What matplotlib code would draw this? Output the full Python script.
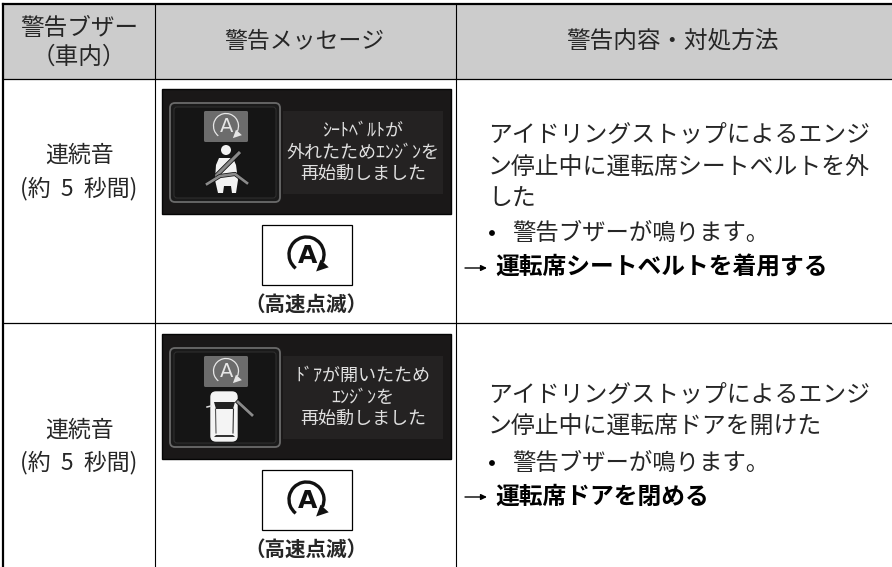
"""Warning table: two rows with display panel, icon and instructions."""
import matplotlib
matplotlib.use("Agg")
import matplotlib.pyplot as plt
from matplotlib.patches import Arc, Circle, FancyBboxPatch, Polygon, Rectangle

plt.rcParams["font.family"] = ["Noto Sans CJK JP", "DejaVu Sans"]

HEADERS = ["警告ブザー\n（車内）", "警告メッセージ", "警告内容・対処方法"]
BUZZER = ["連続音", "(約  5  秒間)"]
BLINK = "（高速点滅）"
PANEL_TEXT = [["ｼｰﾄﾍﾞﾙﾄが", "外れたためｴﾝｼﾞﾝを", "再始動しました"],
              ["ﾄﾞｱが開いたため", "ｴﾝｼﾞﾝを", "再始動しました"]]
BODY = [["アイドリングストップによるエンジ", "ン停止中に運転席シートベルトを外", "した"],
        ["アイドリングストップによるエンジ", "ン停止中に運転席ドアを開けた"]]
BULLET = "警告ブザーが鳴ります。"
ACTION = ["運転席シートベルトを着用する", "運転席ドアを閉める"]

X_LEFT, X_COL1, X_COL2, X_RIGHT = 2.7, 154.5, 456, 892
Y_TOP, Y_HEAD, Y_ROW = 4, 79, 323
ROW_DY = [0, 245]
TXT = "#262626"

fig = plt.figure(figsize=(8.92, 5.67), dpi=100)
ax = fig.add_axes([0, 0, 1, 1])
ax.set_xlim(0, 892)
ax.set_ylim(567, 0)
ax.axis("off")


def a_icon(cx, cy, r, color, lw, weight, fs):
    # y axis points down, so growing angles run clockwise on screen
    ax.add_patch(Arc((cx, cy), 2 * r, 2 * r, theta1=128, theta2=385, color=color, lw=lw))
    ax.add_patch(Polygon([(cx + r * 0.8, cy + r * 0.3), (cx + r * 1.27, cy + r * 0.73),
                          (cx + r * 0.55, cy + r * 0.97)], color=color, lw=0))
    ax.text(cx + r * 0.04, cy + r * 0.06, "A", ha="center", va="center", color=color,
            fontsize=fs, fontweight=weight, family="DejaVu Sans")


def seated():
    gray = "#8a8a8a"
    ax.add_patch(Polygon([(215, 180), (216, 165), (219, 158), (233, 158), (236, 165), (238, 180),
                          (236, 193), (232, 193), (231, 186), (224, 186), (223, 193),
                          (218, 193)], color="#f2f2f2", lw=0))
    ax.add_patch(Circle((226, 150), 5, color="#f2f2f2", lw=0))
    ax.plot([240, 216], [152, 176], color="#111", lw=3.4, solid_capstyle="butt")
    ax.plot([240, 216], [152, 176], color=gray, lw=2.2, solid_capstyle="butt")
    ax.plot([207, 220, 235, 247], [184, 176, 174, 183], color="#111", lw=3.0)
    ax.plot([207, 220, 235, 247], [184, 176, 174, 183], color=gray, lw=1.9)


def car(y):
    gray = "#8a8a8a"
    ax.add_patch(FancyBboxPatch((211, 147 + y), 26, 49, boxstyle="round,pad=0,rounding_size=5",
                                fc="#f4f4f4", ec="#f4f4f4", lw=1))
    ax.add_patch(Polygon([(214, 157 + y), (235, 157 + y), (233, 164 + y), (216, 164 + y)], color="#222", lw=0))
    ax.add_patch(Polygon([(216, 190 + y), (233, 190 + y), (235, 192 + y), (214, 192 + y)], color="#333", lw=0))
    ax.plot([215.5, 216], [164 + y, 188 + y], color="#555", lw=0.8)
    ax.plot([233.5, 233], [164 + y, 188 + y], color="#333", lw=0.8)
    ax.plot([207, 211], [162 + y, 161 + y], color="#ddd", lw=1.1)
    ax.plot([238, 252], [157 + y, 170 + y], color="#111", lw=3.2)
    ax.plot([238, 252], [157 + y, 170 + y], color=gray, lw=2.0)


# header shading and grid
ax.add_patch(Rectangle((X_LEFT, Y_TOP), X_RIGHT - X_LEFT, Y_HEAD - Y_TOP, fc="#cccccc", ec="none"))
ax.plot([X_LEFT, X_RIGHT], [Y_TOP, Y_TOP], color="k", lw=1.6)
for xv, wd in [(X_LEFT, 1.6), (X_COL1, 0.8), (X_COL2, 0.8)]:
    ax.plot([xv, xv], [Y_TOP, 567], color="k", lw=wd)
for yv in [Y_HEAD, Y_ROW]:
    ax.plot([X_LEFT, X_RIGHT], [yv, yv], color="k", lw=0.9)

ax.text(79, 43, HEADERS[0], ha="center", va="center", fontsize=17, color=TXT, linespacing=1.3)
ax.text(304, 41, HEADERS[1], ha="center", va="center", fontsize=16.5, color=TXT)
ax.text(672, 41, HEADERS[2], ha="center", va="center", fontsize=17, color=TXT)

BODY_Y = [[135, 167, 198], [395, 426]]
BULLET_Y = [233, 463]
ACTION_Y = [268, 497]
BUZZ_Y = [[155, 189], [430, 463]]
PANEL_Y = [131, 153, 174]

for i, dy in enumerate(ROW_DY):
    ax.text(79, BUZZ_Y[i][0], BUZZER[0], ha="center", va="center", fontsize=16.5, color=TXT)
    ax.text(79, BUZZ_Y[i][1], BUZZER[1], ha="center", va="center", fontsize=16.5, color=TXT)

    # display panel
    ax.add_patch(Rectangle((162, 89 + dy), 289, 125, fc="#1a1818", ec="#050505", lw=1))
    ax.add_patch(Rectangle((283, 111 + dy), 160, 83, fc="#242222", ec="none"))
    ax.add_patch(FancyBboxPatch((170, 103 + dy), 110, 99, boxstyle="round,pad=0,rounding_size=5",
                                fc="#1a1a1a", ec="#6a6a6a", lw=1.3))
    ax.add_patch(FancyBboxPatch((174, 107 + dy), 102, 91, boxstyle="round,pad=0,rounding_size=3",
                                fc="#151515", ec="#2e2e2e", lw=0.8))
    ax.add_patch(FancyBboxPatch((204, 111 + dy), 44, 31, boxstyle="round,pad=0,rounding_size=1.5",
                                fc="#6c6c6c", ec="none"))
    a_icon(226, 126 + dy, 12.5, "#e6e6e6", 0.9, "normal", 14)
    if i == 0:
        seated()
    else:
        car(dy)
    for yv, line in zip(PANEL_Y, PANEL_TEXT[i]):
        ax.text(363, yv + dy, line, ha="center", va="center", fontsize=13, color="#e0e0e0")

    # indicator box
    ax.add_patch(Rectangle((261.5, 224.5 + dy), 90, 60, fc="white", ec="k", lw=0.9))
    a_icon(306.5, 254.5 + dy, 17.5, "#111111", 2.4, "bold", 18)
    ax.text(306, 304 + dy, BLINK, ha="center", va="center", fontsize=14.8, color=TXT, fontweight="bold")

    # right column
    for yv, line in zip(BODY_Y[i], BODY[i]):
        ax.text(488, yv, line, ha="left", va="center", fontsize=17.2, color=TXT)
    ax.add_patch(Circle((492, BULLET_Y[i]), 2.9, color="k", lw=0))
    ax.text(512, BULLET_Y[i], BULLET, ha="left", va="center", fontsize=16.85, color=TXT)
    ax.annotate("", xy=(487, ACTION_Y[i]), xytext=(465, ACTION_Y[i]),
                arrowprops=dict(arrowstyle="-|>,head_length=0.35,head_width=0.17", color="k", lw=1.0,
                                shrinkA=0, shrinkB=0))
    ax.text(495, ACTION_Y[i], ACTION[i], ha="left", va="center", fontsize=17.1, color="k", fontweight="bold")

fig.savefig("out.png", dpi=100)
